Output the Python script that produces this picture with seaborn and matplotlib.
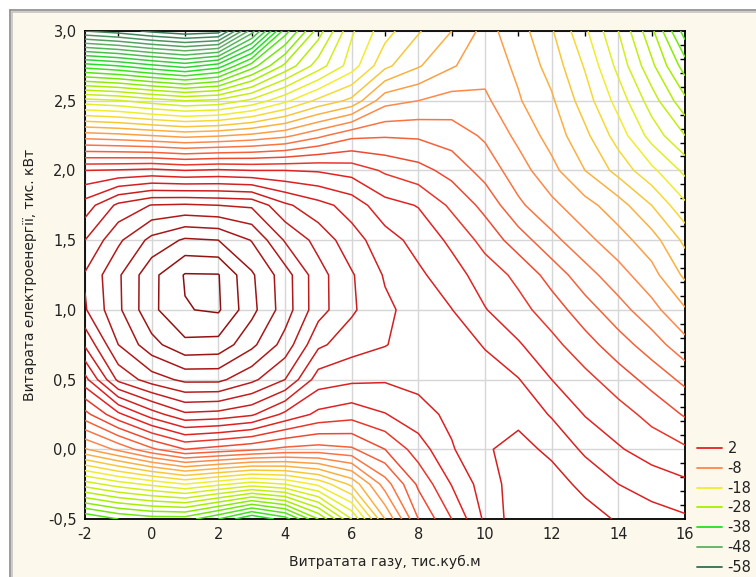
import numpy as np
import matplotlib
matplotlib.use("Agg")
import matplotlib.pyplot as plt
import seaborn as sns
from matplotlib.colors import LinearSegmentedColormap
from matplotlib.lines import Line2D
from matplotlib.patches import Rectangle
from matplotlib.ticker import FixedLocator

# ---------------- data ----------------
x_gas = [-2, -1, 0, 1, 2, 3, 4, 5, 6, 7, 8, 9, 10, 11, 12, 13, 14, 15, 16]
y_power = [-0.5, -0.25, 0.0, 0.25, 0.5, 0.75, 1.0, 1.25, 1.5, 1.75, 2.0, 2.25, 2.5, 2.75, 3.0]

# surface values, one row per y_power value (columns follow x_gas)
z_y_m050 = [-36, -34, -33, -33, -36, -40, -37, -30, -22, -12, -4, 0, 4.4, 7.2, 7.4, 6.8, 5.8, 4.9, 4.3]
z_y_m025 = [-23, -21, -19.5, -18, -19.5, -21, -20, -17.5, -13.5, -7, -1.6, 2.1, 5.0, 7.0, 6.8, 5.5, 4.0, 3.1, 2.4]
z_y_000 = [-10.2, -7.5, -4.4, -2, -2.8, -3.6, -4.5, -4.8, -4.3, -2, 1.0, 3.8, 5.8, 6.6, 5.6, 3.6, 2.2, 1.1, 0.3]
z_y_025 = [-2.7, 1.5, 5, 7.6, 7.3, 6.3, 3.5, 1.5, 0.8, 1.9, 3.2, 4.5, 5.4, 5.5, 3.8, 1.9, 0.8, -0.6, -2.2]
z_y_050 = [3.3, 10.5, 13, 14.5, 14.5, 12.5, 10, 5.0, 4.4, 4.2, 4.6, 4.7, 4.6, 4.1, 2.0, 0.6, -1.0, -2.7, -4.5]
z_y_075 = [8.3, 14, 17.3, 19.5, 19.3, 16.5, 13.2, 8.4, 6.9, 6.1, 5.0, 4.7, 3.9, 2.2, 0.6, -1.2, -3.1, -5.0, -7.3]
z_y_100 = [11.8, 15.6, 19.5, 21.9, 22.25, 18.6, 15, 10.8, 8.3, 6.4, 5.2, 4.05, 2.1, 0.7, -1.0, -3.1, -5.2, -7.3, -9.8]
z_y_125 = [12.2, 15.7, 19.4, 22.15, 22.1, 18.3, 14.9, 10.8, 8.2, 5.8, 4.4, 2.8, 1.1, -0.5, -2.8, -5.2, -7.2, -9.3, -12.4]
z_y_150 = [10, 13.6, 16.6, 18.3, 18, 15.9, 11.8, 9.3, 6.8, 4.9, 3.25, 1.6, -0.7, -3.0, -5.4, -7.4, -9.2, -11.1, -14.5]
z_y_175 = [6.9, 10.5, 12.1, 12.3, 12, 11.7, 8.4, 6.7, 5.2, 2.7, 1.9, -0.4, -2.6, -5.6, -7.5, -9.3, -11.1, -14, -17.6]
z_y_200 = [2.0, 2.2, 2.5, 2, 2.3, 2.0, 2.0, 1.8, 1.2, -0.3, -1.3, -2.7, -4.8, -7.1, -9.4, -12, -14.7, -17.5, -20.5]
z_y_225 = [-9, -9.4, -10, -10.6, -10.2, -9.5, -8.5, -6.5, -4.5, -4.2, -4.3, -5.0, -6.3, -8.5, -10.8, -13.5, -16.9, -20.8, -24]
z_y_250 = [-21.2, -21.8, -23, -24, -23.5, -21.5, -18.5, -15.5, -13.5, -8.7, -8, -7.2, -7.6, -9.8, -11.7, -15, -18.8, -23, -27.5]
z_y_275 = [-37, -38, -39.5, -40.8, -39, -33, -27.5, -23, -19, -14.5, -12.2, -10.2, -8.8, -10.4, -12.8, -16.2, -20.6, -25.5, -31]
z_y_300 = [-54, -55, -56.5, -57.5, -57, -47, -35, -27, -20.3, -16.8, -14.2, -12, -9.3, -11.1, -13.8, -17.6, -22, -27.5, -35]

z_rows = [z_y_m050, z_y_m025, z_y_000, z_y_025, z_y_050, z_y_075, z_y_100, z_y_125,
          z_y_150, z_y_175, z_y_200, z_y_225, z_y_250, z_y_275, z_y_300]

contour_step = 2
lowest_level = -58
highest_level = 22
legend_levels = [2, -8, -18, -28, -38, -48, -58]

x_ticks = [-2, 0, 2, 4, 6, 8, 10, 12, 14, 16]
x_tick_labels = ["-2", "0", "2", "4", "6", "8", "10", "12", "14", "16"]
y_ticks = [-0.5, 0.0, 0.5, 1.0, 1.5, 2.0, 2.5, 3.0]
y_tick_labels = ["-0,5", "0,0", "0,5", "1,0", "1,5", "2,0", "2,5", "3,0"]

x_label = "Витратата газу, тис.куб.м"
y_label = "Витарата електроенергії, тис. кВт"

# colour scale of the contour lines (value -> colour)
anchor_values = [-58, -48, -38, -28, -18, -8, 2, 12, 22]
anchor_colors = ["#2f6e55", "#5fae62", "#22e022", "#a6ee00", "#f2ee30",
                 "#ff8a4a", "#e32222", "#bb1c1c", "#8a1010"]

# ---------------- figure ----------------
sns.set_theme(style="white")
plt.rcParams["font.family"] = ["DejaVu Sans"]

W, H = 756, 577
fig = plt.figure(figsize=(W / 100, H / 100), dpi=100)
fig.patch.set_facecolor("#fdf8ec")

# window frame decoration (white strip + grey double line top / left)
fig.add_artist(Rectangle((0, 1 - 9 / H), 1, 9 / H, transform=fig.transFigure,
                         facecolor="white", edgecolor="none", zorder=0))
fig.add_artist(Rectangle((0, 0), 9 / W, 1, transform=fig.transFigure,
                         facecolor="white", edgecolor="none", zorder=0))
for off, col in [(9.5, "#8c8c8c"), (11.5, "#c4c4c4")]:
    fig.add_artist(Line2D([off / W, 1], [1 - off / H, 1 - off / H], transform=fig.transFigure,
                          color=col, lw=1.2, zorder=1))
    fig.add_artist(Line2D([off / W, off / W], [0, 1 - off / H], transform=fig.transFigure,
                          color=col, lw=1.2, zorder=1))

ax_l, ax_r, ax_t, ax_b = 85, 685, 31, 519
ax = fig.add_axes([ax_l / W, 1 - ax_b / H, (ax_r - ax_l) / W, (ax_b - ax_t) / H])
ax.set_facecolor("white")

X, Y = np.meshgrid(np.array(x_gas, float), np.array(y_power, float))
Z = np.array(z_rows, float)

span = highest_level - lowest_level
cmap = LinearSegmentedColormap.from_list(
    "stat", [((v - lowest_level) / span, c) for v, c in zip(anchor_values, anchor_colors)])
levels = np.arange(lowest_level, highest_level + 1, contour_step)
line_colors = [cmap((lv - lowest_level) / span) for lv in levels]

ax.contour(X, Y, Z, levels=levels, colors=line_colors, linewidths=1.1, zorder=3)

ax.set_xlim(-2, 16)
ax.set_ylim(-0.5, 3.0)

ax.xaxis.set_major_locator(FixedLocator(x_ticks))
ax.yaxis.set_major_locator(FixedLocator(y_ticks))
ax.set_xticklabels(x_tick_labels)
ax.set_yticklabels(y_tick_labels)
ax.xaxis.set_minor_locator(FixedLocator(list(range(-2, 17))))
ax.yaxis.set_minor_locator(FixedLocator([v / 10 for v in range(-5, 31)]))
ax.tick_params(which="both", direction="in", top=True, right=True, color="black",
               width=1.0, labelsize=10.5, colors="#222222")
ax.tick_params(which="major", length=0, pad=6)
ax.tick_params(which="minor", length=3.5)
ax.tick_params(axis="y", which="major", pad=6)

ax.grid(True, which="major", color="#d6d6d6", lw=1.0, zorder=1)
ax.set_axisbelow(True)
for s in ax.spines.values():
    s.set_color("black")
    s.set_linewidth(1.3)
    s.set_visible(True)

ax.set_xlabel(x_label, fontsize=10, color="#222222", labelpad=9)
ax.set_ylabel(y_label, fontsize=10, color="#222222", labelpad=8)

handles = [Line2D([0], [0], color=cmap((lv - lowest_level) / span), lw=1.3) for lv in legend_levels]
leg = ax.legend(handles, [str(v) for v in legend_levels], loc="upper left",
                bbox_to_anchor=(697 / W, 1 - 441 / H), bbox_transform=fig.transFigure,
                frameon=False, fontsize=10.5, handlelength=1.7, handletextpad=0.4,
                labelspacing=0.33, borderpad=0, borderaxespad=0)
for t in leg.get_texts():
    t.set_color("#222222")

fig.savefig("out.png", dpi=100, facecolor=fig.get_facecolor())
